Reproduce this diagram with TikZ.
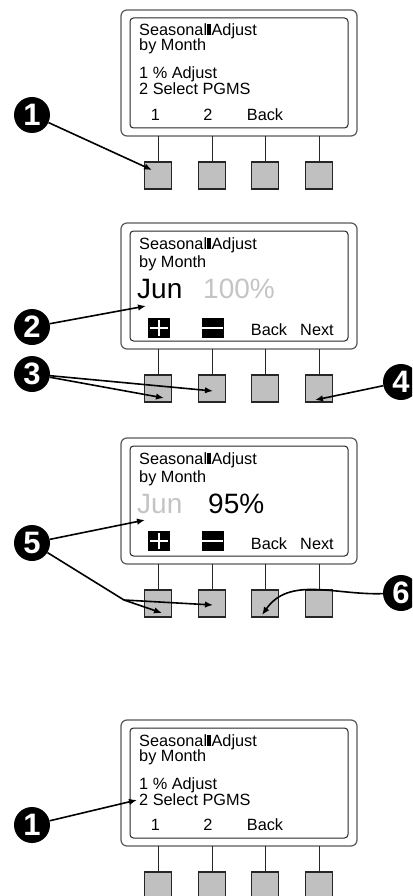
\documentclass[tikz,border=0pt]{standalone}
\usepackage{fontspec}
\setmainfont{Liberation Sans}
\usepackage{tikz}
\usetikzlibrary{arrows.meta}

\definecolor{keygray}{HTML}{C0C0C0}
\definecolor{dimtext}{HTML}{C4C4C4}
\newcommand{\lcdtxt}{\fontsize{16.3pt}{18pt}\selectfont}
\newcommand{\lcdbig}{\fontsize{28pt}{30pt}\selectfont}
\newcommand{\cursorbar}{\hspace{0.3pt}\rule{3.5pt}{11.5pt}\hspace{0.6pt}}

\begin{document}
\begin{tikzpicture}[x=1pt,y=-1pt,
    frame/.style={draw=black!65,line width=1.2pt,rounded corners=6pt,minimum width=236pt,minimum height=126pt,outer sep=0pt},
    screen/.style={draw=black!85,line width=1pt,rounded corners=3.5pt,minimum width=218pt,minimum height=110pt},
    btn/.style={draw=black!85,fill=keygray,line width=1.2pt,minimum size=27pt,inner sep=0pt,outer sep=0pt},
    stem/.style={draw=black!85,line width=1pt},
    lcd/.style={inner sep=0pt,anchor=base west,font=\lcdtxt},
    soft/.style={inner sep=0pt,anchor=base,font=\lcdtxt},
    callout/.style={circle,fill=black,minimum size=36pt,inner sep=0pt,text=white,font=\bfseries\fontsize{31pt}{31pt}\selectfont},
    pointer/.style={line width=1.6pt,-{Latex[length=8pt,width=6.5pt]}},
    plusbox/.style={fill=black,minimum width=22pt,minimum height=20pt,inner sep=0pt},
    slot/.style={white,line width=2.4pt}]
    \clip (0,0) rectangle (412,896);

    % displays and keys
    \foreach \p/\t in {1/10,2/223,3/438,4/720}{
        \node[frame] (f\p) at (239,\t+63) {};
        \node[screen] (s\p) at (239,\t+63) {};
        \foreach \b/\x in {1/158,2/212,3/265,4/319}{
            \node[btn] (b\p\b) at (\x,\t+165.5) {};
            \draw[stem] (b\p\b.north) -- (b\p\b.north |- f\p.south);
        }
    }

    % screen 1
    \node[lcd] (m1a) at (139,35.5) {Seasonal\cursorbar Adjust};
    \node[lcd] (m1b) at (139,50.5) {by Month};
    \node[lcd] (m1c) at (139,78.5) {1 \% Adjust};
    \node[lcd] (m1d) at (139,94.5) {2 Select PGMS};
    \node[soft] (k11) at (155.5,121) {1};
    \node[soft] (k12) at (208,121) {2};
    \node[soft] (k13) at (265,121) {Back};

    % screen 2
    \node[lcd] (m2a) at (139,249) {Seasonal\cursorbar Adjust};
    \node[lcd] (m2b) at (139,267) {by Month};
    \node[lcd,font=\lcdbig] (m2c) at (137,298) {Jun};
    \node[lcd,font=\lcdbig,text=dimtext] (m2d) at (203,298) {100\%};
    \node[plusbox] (p2) at (159,328) {};
    \draw[slot] ([xshift=2pt]p2.west) -- ([xshift=-2pt]p2.east) ([yshift=-2pt]p2.north) -- ([yshift=2pt]p2.south);
    \node[plusbox] (n2) at (212.5,328) {};
    \draw[slot] ([xshift=1pt]n2.west) -- ([xshift=-1pt]n2.east);
    \node[soft] (k23) at (269,335) {Back};
    \node[soft] (k24) at (317,335) {Next};

    % screen 3
    \node[lcd] (m3a) at (139,464) {Seasonal\cursorbar Adjust};
    \node[lcd] (m3b) at (139,482) {by Month};
    \node[lcd,font=\lcdbig,text=dimtext] (m3c) at (137,513) {Jun};
    \node[lcd,font=\lcdbig] (m3d) at (208,513) {95\%};
    \node[plusbox] (p3) at (159,541) {};
    \draw[slot] ([xshift=2pt]p3.west) -- ([xshift=-2pt]p3.east) ([yshift=-2pt]p3.north) -- ([yshift=2pt]p3.south);
    \node[plusbox] (n3) at (212.5,541) {};
    \draw[slot] ([xshift=1pt]n3.west) -- ([xshift=-1pt]n3.east);
    \node[soft] (k33) at (269,549.5) {Back};
    \node[soft] (k34) at (317,549.5) {Next};

    % screen 4
    \node[lcd] (m4a) at (139,746) {Seasonal\cursorbar Adjust};
    \node[lcd] (m4b) at (139,761) {by Month};
    \node[lcd] (m4c) at (139,789.5) {1 \% Adjust};
    \node[lcd] (m4d) at (139,805) {2 Select PGMS};
    \node[soft] (k41) at (155.5,830.5) {1};
    \node[soft] (k42) at (208,830.5) {2};
    \node[soft] (k43) at (265,830.5) {Back};

    % callouts
    \node[callout] (c1) at (32,115) {1};
    \node[callout] (c2) at (32,327) {2};
    \node[callout] (c3) at (32,374) {3};
    \node[callout] (c4) at (401,382) {4};
    \node[callout] (c5) at (32,543) {5};
    \node[callout] (c6) at (401,593) {6};
    \node[callout] (c7) at (32,825) {1};

    \coordinate (t1) at (152,170);
    \coordinate (t2) at (146,306);
    \coordinate (t3a) at (164,398);
    \coordinate (t3b) at (213,391);
    \coordinate (t4) at (315,400);
    \coordinate (t5a) at (145,520);
    \coordinate (k5) at (124,600);
    \coordinate (t5b) at (162,613);
    \coordinate (t5c) at (213,605);
    \coordinate (t6) at (262,615);
    \coordinate (t7) at (137,800);

    %% arrows
    \draw[pointer] (c1) -- (t1);
    \draw[pointer] (c2) -- (t2);
    \draw[pointer] (c3) -- (t3a);
    \draw[pointer] (c3) -- (t3b);
    \draw[pointer] (c4) -- (t4);
    \draw[pointer] (c5) -- (t5a);
    \draw[pointer] (c5) -- (k5) -- (t5b);
    \draw[pointer] (k5) -- (t5c);
    \draw[pointer] (c6) to[out=182,in=55] (t6);
    \draw[pointer] (c7) -- (t7);
\end{tikzpicture}
\end{document}
